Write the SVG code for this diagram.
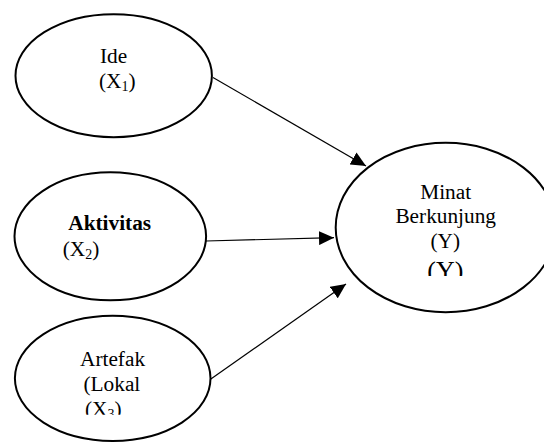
<svg xmlns="http://www.w3.org/2000/svg" width="544" height="442" viewBox="0 0 544 442">
<style>
.node{fill:#fff;stroke:#000;stroke-width:2}
.t{font-family:"Liberation Serif","Times New Roman",serif;font-size:21.3px;fill:#000}
.b{font-weight:bold}
.sub{font-size:14px}
.edge{stroke:#000;stroke-width:1.2;fill:none}
</style>
<defs>
<marker id="arr" markerUnits="userSpaceOnUse" markerWidth="16" markerHeight="14" refX="15" refY="7" orient="auto">
<path d="M0,0 L15,7 L0,14 Z" fill="#000"/>
</marker>
<clipPath id="c3"><rect x="0" y="300" width="230" height="114.8"/></clipPath>
<clipPath id="cy"><rect x="330" y="140" width="230" height="136"/></clipPath>
</defs>
<rect width="544" height="442" fill="#fff"/>
<g id="connectors">
<line class="edge" x1="213" y1="77.5" x2="366" y2="166" marker-end="url(#arr)"/>
<line class="edge" x1="206" y1="241" x2="334" y2="237.7" marker-end="url(#arr)"/>
<line class="edge" x1="210.5" y1="379.3" x2="346" y2="284" marker-end="url(#arr)"/>
</g>
<g id="x1">
<ellipse class="node" cx="113.7" cy="75.7" rx="98.2" ry="61.5"/>
<text class="t" x="100" y="63.3">Ide</text>
<text class="t" x="99" y="88.3">(X<tspan class="sub" dy="3">1</tspan><tspan dy="-3">)</tspan></text>
</g>
<g id="x2">
<ellipse class="node" cx="110.3" cy="236.3" rx="95.8" ry="64"/>
<text class="t b" x="68.3" y="230.2">Aktivitas</text>
<text class="t" x="62.7" y="256">(X<tspan class="sub" dy="3">2</tspan><tspan dy="-3">)</tspan></text>
</g>
<g id="x3">
<ellipse class="node" cx="112.7" cy="378.3" rx="97.8" ry="62.6"/>
<g clip-path="url(#c3)">
<text class="t" x="80" y="365.7">Artefak</text>
<text class="t" x="83.5" y="390.7">(Lokal</text>
<text class="t" x="85" y="415.7">(X<tspan class="sub" dy="3">3</tspan><tspan dy="-3">)</tspan></text>
</g>
</g>
<g id="y">
<ellipse class="node" cx="445.7" cy="227.5" rx="110" ry="84.7"/>
<g clip-path="url(#cy)">
<text class="t" x="445.7" y="199.3" text-anchor="middle">Minat</text>
<text class="t" x="445.7" y="222.7" text-anchor="middle">Berkunjung</text>
<text class="t" x="445.3" y="248" text-anchor="middle">(Y)</text>
<text class="t" x="445.3" y="279" text-anchor="middle" style="font-size:26px">(Y)</text>
</g>
</g>
</svg>
